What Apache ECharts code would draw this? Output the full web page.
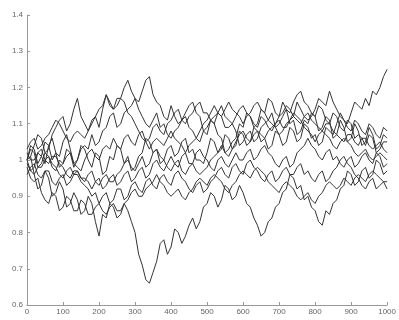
<!DOCTYPE html>
<html>
<head>
<meta charset="utf-8">
<script src="https://cdn.jsdelivr.net/npm/echarts@6/dist/echarts.min.js"></script>
<style>
  html, body { margin: 0; padding: 0; background: #fff; }
  #chart { width: 399px; height: 320px; }
</style>
</head>
<body>
<div id="chart"></div>
<script>
// step index of each sample (every 10 steps)
var steps = [0,10,20,30,40,50,60,70,80,90,100,110,120,130,140,150,160,170,180,190,
  200,210,220,230,240,250,260,270,280,290,300,310,320,330,340,350,360,370,380,390,
  400,410,420,430,440,450,460,470,480,490,500,510,520,530,540,550,560,570,580,590,
  600,610,620,630,640,650,660,670,680,690,700,710,720,730,740,750,760,770,780,790,
  800,810,820,830,840,850,860,870,880,890,900,910,920,930,940,950,960,970,980,990,
  1000]

// paths
var pathA = [1.00,1.01,0.96,0.92,0.93,0.97,0.95,0.90,0.91,0.94,0.92,0.87,0.88,0.91,0.89,0.85,0.86,0.90,0.88,0.83,
  0.79,0.85,0.84,0.88,0.87,0.84,0.85,0.88,0.86,0.83,0.80,0.74,0.71,0.67,0.66,0.69,0.72,0.77,0.78,0.74,
  0.76,0.81,0.80,0.77,0.79,0.82,0.84,0.81,0.83,0.87,0.88,0.91,0.90,0.87,0.89,0.93,0.92,0.89,0.90,0.93,
  0.91,0.88,0.87,0.84,0.82,0.79,0.80,0.83,0.84,0.87,0.88,0.91,0.92,0.96,0.95,0.92,0.93,0.89,0.90,0.87,
  0.86,0.83,0.82,0.86,0.85,0.88,0.89,0.92,0.93,0.97,0.96,0.93,0.94,0.97,0.98,0.95,0.96,1.00,0.99,0.96,
  0.97]
var pathB = [1.00,1.04,1.03,0.99,1.01,1.05,1.04,1.00,1.02,0.98,0.99,1.03,1.02,0.98,1.00,1.04,1.03,1.00,0.98,1.02,
  1.01,0.96,0.97,1.01,1.00,1.04,1.03,0.99,1.01,0.97,0.98,1.01,1.02,1.06,1.05,1.02,1.03,0.99,1.00,1.03,
  1.04,1.01,1.02,1.05,1.06,1.02,1.03,1.00,1.00,0.99,1.02,1.06,1.05,1.02,1.03,1.07,1.06,1.03,1.04,1.08,
  1.07,1.04,1.05,1.09,1.08,1.05,1.06,1.03,1.04,1.08,1.07,1.04,1.05,1.09,1.08,1.05,1.06,1.10,1.09,1.06,
  1.07,1.04,1.05,1.09,1.08,1.07,1.10,1.13,1.11,1.10,1.13,1.16,1.15,1.14,1.17,1.15,1.19,1.18,1.20,1.23,
  1.25]
var pathC = [1.00,1.01,1.04,1.07,1.06,1.02,1.03,1.07,1.09,1.11,1.12,1.08,1.10,1.14,1.17,1.12,1.10,1.08,1.11,1.12,
  1.09,1.14,1.18,1.15,1.14,1.17,1.17,1.20,1.22,1.19,1.17,1.14,1.12,1.10,1.09,1.11,1.13,1.09,1.10,1.07,
  1.06,1.08,1.09,1.11,1.12,1.09,1.08,1.06,1.05,1.08,1.07,1.11,1.10,1.07,1.06,1.02,1.03,1.05,1.06,1.10,
  1.09,1.13,1.12,1.09,1.10,1.14,1.13,1.17,1.16,1.13,1.12,1.16,1.14,1.10,1.11,1.07,1.08,1.11,1.10,1.13,
  1.12,1.08,1.09,1.12,1.11,1.06,1.07,1.11,1.09,1.05,1.06,1.10,1.08,1.04,1.05,1.09,1.07,1.03,1.04,1.07,
  1.06]
var pathD = [1.00,0.97,0.98,1.02,1.01,0.99,1.04,1.06,1.02,1.01,1.05,1.07,1.03,0.99,1.00,1.03,1.04,1.03,1.07,1.04,
  1.05,1.08,1.09,1.12,1.13,1.09,1.10,1.13,1.14,1.15,1.17,1.16,1.19,1.22,1.23,1.18,1.16,1.15,1.12,1.11,
  1.15,1.12,1.10,1.11,1.13,1.15,1.16,1.13,1.12,1.08,1.09,1.11,1.12,1.13,1.15,1.12,1.11,1.10,1.08,1.04,
  1.05,1.07,1.08,1.05,1.06,1.09,1.10,1.11,1.13,1.09,1.10,1.12,1.14,1.13,1.16,1.18,1.19,1.16,1.15,1.13,
  1.12,1.15,1.14,1.11,1.10,1.13,1.12,1.09,1.08,1.11,1.10,1.06,1.07,1.06,1.04,1.07,1.06,1.02,1.03,1.05,
  1.05]
var pathE = [1.00,1.03,1.02,0.98,0.99,1.02,1.01,0.98,0.97,1.00,0.99,1.01,1.02,0.99,0.98,0.97,1.00,1.02,1.03,1.01,
  1.00,1.03,1.04,1.03,1.06,1.04,1.03,1.06,1.07,1.05,1.04,1.07,1.08,1.05,1.06,1.09,1.10,1.08,1.07,1.10,
  1.11,1.13,1.14,1.11,1.10,1.12,1.13,1.15,1.16,1.13,1.13,1.11,1.10,1.13,1.12,1.09,1.09,1.10,1.12,1.14,
  1.15,1.13,1.12,1.10,1.09,1.12,1.11,1.09,1.08,1.10,1.12,1.13,1.15,1.14,1.12,1.16,1.14,1.12,1.11,1.12,
  1.14,1.17,1.16,1.15,1.19,1.16,1.14,1.12,1.11,1.09,1.08,1.11,1.10,1.08,1.07,1.10,1.09,1.07,1.06,1.09,
  1.08]
var pathF = [0.98,0.95,0.94,0.95,0.91,0.89,0.88,0.91,0.90,0.86,0.87,0.90,0.89,0.86,0.86,0.89,0.88,0.85,0.85,0.87,
  0.88,0.90,0.91,0.88,0.89,0.92,0.92,0.89,0.90,0.93,0.94,0.92,0.91,0.94,0.95,0.93,0.92,0.95,0.96,0.94,
  0.93,0.96,0.97,0.95,0.94,0.92,0.91,0.93,0.94,0.91,0.92,0.94,0.95,0.97,0.98,0.96,0.95,0.98,0.99,0.97,
  0.96,0.99,1.00,0.98,0.97,0.95,0.94,0.96,0.97,0.94,0.95,0.97,0.98,0.96,0.96,0.98,0.99,0.96,0.97,0.95,
  0.94,0.96,0.97,0.94,0.95,0.97,0.98,1.00,1.01,0.99,0.98,0.96,0.95,0.93,0.92,0.94,0.95,0.92,0.93,0.94,
  0.92]
var pathG = [0.96,0.98,0.99,0.96,0.95,0.97,0.97,0.94,0.93,0.95,0.96,0.93,0.94,0.96,0.97,0.95,0.95,0.94,0.92,0.94,
  0.95,0.92,0.93,0.95,0.96,0.93,0.94,0.96,0.97,0.94,0.95,0.97,0.98,0.95,0.96,0.99,1.00,0.98,0.97,0.99,
  1.01,0.99,0.98,1.01,1.02,0.99,0.99,1.02,1.03,1.01,1.00,0.98,0.97,1.00,1.01,0.99,0.98,1.00,1.02,1.00,
  1.00,1.02,1.03,1.00,1.01,1.03,1.04,1.02,1.01,0.99,0.98,1.00,1.01,0.98,0.99,1.02,1.03,1.04,1.06,1.04,
  1.03,1.01,1.00,1.02,1.03,1.00,1.01,0.99,0.98,1.00,1.01,0.98,0.99,1.01,1.02,1.00,0.99,1.02,1.01,0.98,
  0.99]
var pathH = [1.02,1.00,1.00,1.02,1.03,1.00,0.99,1.01,1.01,0.99,0.98,0.96,0.95,0.97,0.97,0.95,0.94,0.96,0.97,0.94,
  0.93,0.95,0.96,0.94,0.94,0.96,0.97,0.99,1.00,0.98,0.97,0.99,1.01,0.98,0.99,1.02,1.03,1.01,1.00,0.98,
  0.97,0.99,1.00,0.97,0.96,0.98,0.99,0.97,0.96,0.97,0.98,1.00,1.01,1.02,1.04,1.02,1.01,1.03,1.05,1.07,
  1.08,1.06,1.05,1.07,1.08,1.07,1.06,1.08,1.09,1.10,1.11,1.09,1.09,1.11,1.12,1.11,1.10,1.12,1.13,1.11,
  1.10,1.09,1.08,1.10,1.10,1.08,1.07,1.06,1.05,1.07,1.07,1.05,1.04,1.06,1.06,1.04,1.03,1.04,1.05,1.03,
  1.02]
var pathI = [0.99,0.97,0.96,0.98,0.98,1.00,1.01,0.99,0.98,0.96,0.95,0.97,0.98,0.96,0.96,0.94,0.93,0.92,0.90,0.91,
  0.88,0.86,0.85,0.87,0.88,0.86,0.86,0.88,0.89,0.91,0.92,0.90,0.90,0.92,0.93,0.94,0.96,0.94,0.93,0.91,
  0.90,0.91,0.92,0.90,0.89,0.91,0.92,0.94,0.95,0.94,0.93,0.95,0.96,0.95,0.94,0.92,0.91,0.93,0.94,0.96,
  0.97,0.96,0.95,0.97,0.98,0.97,0.96,0.94,0.93,0.92,0.91,0.93,0.94,0.93,0.92,0.90,0.89,0.90,0.91,0.89,
  0.88,0.90,0.91,0.93,0.94,0.93,0.92,0.93,0.95,0.94,0.93,0.95,0.96,0.95,0.94,0.96,0.97,0.96,0.95,0.94,
  0.94]
var pathJ = [1.03,1.05,1.06,1.03,1.04,1.06,1.07,1.09,1.11,1.10,1.08,1.06,1.05,1.07,1.08,1.07,1.06,1.08,1.10,1.12,
  1.14,1.15,1.18,1.16,1.14,1.15,1.17,1.16,1.13,1.12,1.10,1.08,1.06,1.05,1.03,1.05,1.06,1.05,1.04,1.06,
  1.08,1.06,1.05,1.04,1.02,1.04,1.05,1.06,1.08,1.10,1.11,1.13,1.15,1.13,1.12,1.14,1.16,1.14,1.13,1.12,
  1.10,1.12,1.13,1.15,1.16,1.14,1.13,1.11,1.10,1.09,1.07,1.08,1.10,1.11,1.13,1.12,1.11,1.09,1.08,1.07,
  1.05,1.07,1.08,1.07,1.06,1.04,1.03,1.05,1.06,1.05,1.04,1.02,1.01,1.02,1.03,1.01,1.00,1.01,1.02,1.01,
  1.00]

var paths = [pathA, pathB, pathC, pathD, pathE, pathF, pathG, pathH, pathI, pathJ]

var myChart = echarts.init(document.getElementById('chart'))
var option = {
  animation: false,
  grid: {
    left: 27,
    right: 7,
    top: 15,
    bottom: 15
  },
  xAxis: {
    type: 'value',
    min: 0,
    max: 1000,
    interval: 100,
    axisLine: { lineStyle: { color: '#999' } },
    axisTick: { inside: true, length: 3, lineStyle: { color: '#999' } },
    axisLabel: {
      color: '#666',
      fontSize: 8,
      margin: 3,
      fontFamily: 'Liberation Sans',
      formatter: function (v) { return String(v) }
    },
    splitLine: { show: false }
  },
  yAxis: {
    type: 'value',
    min: 0.6,
    max: 1.4,
    interval: 0.1,
    axisLine: { show: true, lineStyle: { color: '#999' } },
    axisTick: { show: true, inside: true, length: 3, lineStyle: { color: '#999' } },
    axisLabel: {
      color: '#666',
      fontSize: 8,
      margin: 4,
      fontFamily: 'Liberation Sans',
      formatter: function (v) { return String(+v.toFixed(1)) }
    },
    splitLine: { show: false }
  },
  series: paths.map(function (p) {
    return {
      type: 'line',
      data: steps.map(function (s, i) { return [s, p[i]] }),
      showSymbol: false,
      lineStyle: { color: '#333', width: 1 }
    }
  })
}
myChart.setOption(option)
</script>
</body>
</html>
